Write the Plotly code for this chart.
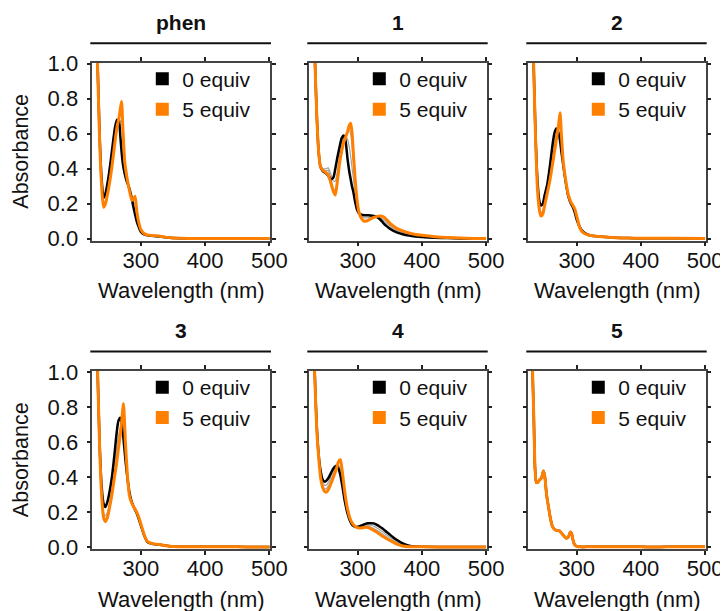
import plotly.graph_objects as go

# ---------------- data ----------------
panel_names = ["phen", "1", "2", "3", "4", "5"]
legend_labels = ["0 equiv", "5 equiv"]
x_tickvals = [300, 400, 500]
y_tickvals = [0.0, 0.2, 0.4, 0.6, 0.8, 1.0]

wl_phen = [230, 233, 236, 239, 242, 245, 250, 255, 260, 263, 266, 268, 270, 272, 275, 278, 282, 286, 288, 291,
           294, 297, 300, 305, 310, 320, 330, 340, 350, 375, 400, 450, 500]
abs0_phen = [1.35, 0.96, 0.58, 0.34, 0.235, 0.26, 0.36, 0.5, 0.64, 0.68, 0.67, 0.59, 0.5, 0.43, 0.37, 0.33,
             0.29, 0.23, 0.19, 0.14, 0.095, 0.065, 0.04, 0.025, 0.02, 0.016, 0.013, 0.007, 0.004, 0.002, 0.002,
             0.002, 0.002]
abs5_phen = [1.35, 0.95, 0.55, 0.30, 0.18, 0.2, 0.29, 0.41, 0.56, 0.64, 0.69, 0.74, 0.785, 0.64, 0.44, 0.36,
             0.28, 0.22, 0.225, 0.243, 0.15, 0.09, 0.053, 0.03, 0.022, 0.018, 0.015, 0.008, 0.005, 0.002, 0.002,
             0.002, 0.002]
gray_phen_a = [1.35, 0.955, 0.56, 0.31, 0.2, 0.22, 0.32, 0.45, 0.6, 0.66, 0.68, 0.67, 0.68, 0.55, 0.41, 0.345,
               0.285, 0.225, 0.21, 0.2, 0.125, 0.078, 0.047, 0.027, 0.021, 0.017, 0.014, 0.0075, 0.0045, 0.002,
               0.002, 0.002, 0.002]

wl_1 = [230, 233, 236, 239, 242, 246, 250, 254, 258, 262, 265, 268, 272, 275, 278, 281, 284, 287, 289, 291,
        293, 296, 299, 302, 306, 310, 315, 320, 325, 330, 335, 340, 345, 350, 360, 370, 380, 390, 400, 420,
        440, 460, 480, 500]
abs0_1 = [1.4, 1.05, 0.72, 0.5, 0.41, 0.385, 0.375, 0.36, 0.34, 0.35, 0.40, 0.46, 0.53, 0.575, 0.59, 0.56,
          0.46, 0.38, 0.34, 0.30, 0.27, 0.21, 0.165, 0.145, 0.137, 0.135, 0.134, 0.133, 0.13, 0.124, 0.11,
          0.09, 0.072, 0.058, 0.038, 0.026, 0.018, 0.013, 0.01, 0.006, 0.004, 0.002, 0.001, 0.0]
abs5_1 = [1.4, 1.05, 0.72, 0.5, 0.41, 0.39, 0.38, 0.365, 0.32, 0.27, 0.25, 0.32, 0.44, 0.5, 0.55, 0.58, 0.61,
          0.65, 0.66, 0.61, 0.5, 0.34, 0.22, 0.15, 0.115, 0.1, 0.103, 0.113, 0.122, 0.128, 0.13, 0.125, 0.11,
          0.09, 0.062, 0.045, 0.033, 0.025, 0.02, 0.012, 0.007, 0.004, 0.002, 0.001]
gray_1_a = [1.4, 1.05, 0.72, 0.5, 0.42, 0.4, 0.4, 0.405, 0.37, 0.33, 0.33, 0.38, 0.48, 0.54, 0.575, 0.58, 0.57,
            0.52, 0.47, 0.41, 0.35, 0.26, 0.19, 0.15, 0.128, 0.12, 0.12, 0.124, 0.127, 0.127, 0.12, 0.107,
            0.09, 0.074, 0.05, 0.035, 0.025, 0.019, 0.015, 0.009, 0.005, 0.003, 0.0015, 0.0005]
gray_1_b = [1.4, 1.05, 0.72, 0.5, 0.415, 0.395, 0.39, 0.39, 0.345, 0.29, 0.28, 0.34, 0.45, 0.51, 0.555, 0.585,
            0.61, 0.62, 0.6, 0.54, 0.44, 0.31, 0.21, 0.15, 0.118, 0.106, 0.107, 0.116, 0.124, 0.128, 0.127,
            0.118, 0.1, 0.082, 0.056, 0.04, 0.029, 0.022, 0.017, 0.01, 0.006, 0.003, 0.0015, 0.0005]

wl_2 = [230, 233, 236, 239, 242, 244, 247, 250, 254, 258, 262, 265, 268, 270, 272, 274, 276, 279, 283, 287,
        291, 294, 297, 300, 305, 310, 315, 320, 330, 340, 350, 360, 380, 400, 450, 500]
abs0_2 = [1.4, 0.97, 0.57, 0.32, 0.21, 0.19, 0.2, 0.25, 0.31, 0.41, 0.53, 0.6, 0.63, 0.62, 0.6, 0.56, 0.5,
          0.42, 0.32, 0.24, 0.2, 0.18, 0.15, 0.11, 0.065, 0.04, 0.028, 0.02, 0.014, 0.011, 0.008, 0.006,
          0.004, 0.003, 0.003, 0.002]
abs5_2 = [1.4, 0.97, 0.55, 0.27, 0.16, 0.13, 0.14, 0.19, 0.26, 0.33, 0.42, 0.49, 0.56, 0.61, 0.66, 0.72, 0.6,
          0.44, 0.33, 0.25, 0.21, 0.19, 0.17, 0.13, 0.06, 0.035, 0.025, 0.02, 0.014, 0.011, 0.008, 0.006,
          0.004, 0.003, 0.003, 0.002]
gray_2_a = [1.4, 0.97, 0.56, 0.29, 0.18, 0.15, 0.16, 0.21, 0.28, 0.37, 0.47, 0.55, 0.6, 0.63, 0.65, 0.66, 0.57,
            0.43, 0.33, 0.245, 0.205, 0.185, 0.16, 0.12, 0.062, 0.037, 0.026, 0.02, 0.014, 0.011, 0.008,
            0.006, 0.004, 0.003, 0.003, 0.002]

wl_3 = [230, 233, 236, 239, 242, 245, 248, 251, 255, 259, 262, 265, 268, 270, 273, 276, 279, 282, 285, 289,
        293, 297, 300, 305, 310, 315, 320, 330, 340, 350, 360, 380, 400, 450, 480, 500]
abs0_3 = [1.4, 0.97, 0.58, 0.35, 0.25, 0.23, 0.26, 0.31, 0.4, 0.53, 0.64, 0.72, 0.74, 0.71, 0.62, 0.5, 0.4,
          0.32, 0.27, 0.23, 0.2, 0.16, 0.125, 0.07, 0.032, 0.023, 0.019, 0.015, 0.009, 0.005, 0.004, 0.003,
          0.003, 0.003, 0.002, 0.002]
abs5_3 = [1.4, 0.97, 0.56, 0.3, 0.17, 0.147, 0.17, 0.22, 0.3, 0.4, 0.47, 0.56, 0.64, 0.71, 0.82, 0.6, 0.42,
          0.3, 0.26, 0.23, 0.205, 0.17, 0.135, 0.075, 0.035, 0.025, 0.02, 0.016, 0.009, 0.005, 0.004, 0.003,
          0.003, 0.003, 0.002, 0.002]
gray_3_a = [1.4, 0.97, 0.57, 0.32, 0.2, 0.18, 0.2, 0.25, 0.34, 0.46, 0.55, 0.63, 0.68, 0.7, 0.7, 0.55, 0.41,
            0.31, 0.265, 0.23, 0.2, 0.165, 0.13, 0.072, 0.033, 0.024, 0.02, 0.015, 0.009, 0.005, 0.004, 0.003,
            0.003, 0.003, 0.002, 0.002]

wl_4 = [230, 233, 236, 239, 242, 245, 248, 251, 255, 259, 263, 267, 270, 273, 276, 280, 284, 288, 292, 296,
        300, 304, 308, 312, 316, 320, 325, 330, 335, 340, 345, 350, 355, 360, 370, 380, 390, 400, 450, 500]
abs0_4 = [1.4, 0.99, 0.7, 0.53, 0.44, 0.39, 0.375, 0.38, 0.4, 0.43, 0.455, 0.467, 0.45, 0.41, 0.35, 0.26,
          0.195, 0.15, 0.125, 0.117, 0.118, 0.122, 0.128, 0.134, 0.137, 0.138, 0.137, 0.128, 0.116, 0.104,
          0.088, 0.073, 0.058, 0.045, 0.023, 0.01, 0.005, 0.003, 0.002, 0.002]
abs5_4 = [1.4, 0.98, 0.68, 0.52, 0.4, 0.345, 0.32, 0.315, 0.335, 0.37, 0.41, 0.45, 0.49, 0.5, 0.43, 0.31,
          0.22, 0.165, 0.135, 0.12, 0.112, 0.11, 0.112, 0.115, 0.113, 0.107, 0.097, 0.086, 0.073, 0.06, 0.05,
          0.04, 0.03, 0.02, 0.008, 0.004, 0.003, 0.003, 0.002, 0.002]
gray_4_a = [1.4, 0.985, 0.69, 0.525, 0.43, 0.375, 0.355, 0.355, 0.375, 0.41, 0.44, 0.465, 0.47, 0.45, 0.38,
            0.28, 0.205, 0.155, 0.13, 0.118, 0.116, 0.117, 0.122, 0.126, 0.127, 0.126, 0.121, 0.11, 0.098,
            0.086, 0.072, 0.059, 0.046, 0.035, 0.017, 0.008, 0.004, 0.003, 0.002, 0.002]
gray_4_b = [1.4, 0.982, 0.685, 0.522, 0.415, 0.36, 0.335, 0.335, 0.355, 0.39, 0.425, 0.46, 0.485, 0.48, 0.41,
            0.295, 0.215, 0.16, 0.132, 0.119, 0.114, 0.113, 0.117, 0.12, 0.12, 0.116, 0.108, 0.097, 0.085,
            0.072, 0.06, 0.048, 0.037, 0.027, 0.012, 0.006, 0.004, 0.003, 0.002, 0.002]

wl_5 = [229, 231, 233, 235, 237, 239, 242, 245, 248, 250, 253, 256, 259, 262, 266, 270, 273, 276, 280, 284,
        287, 290, 292, 294, 296, 298, 301, 305, 320, 340, 360, 380, 400, 420, 440, 460, 480, 500]
abs0_5 = [1.3, 1.02, 0.75, 0.45, 0.37, 0.37, 0.385, 0.395, 0.435, 0.41, 0.3, 0.23, 0.165, 0.12, 0.1, 0.096,
          0.094, 0.082, 0.065, 0.052, 0.06, 0.088, 0.08, 0.045, 0.02, 0.01, 0.005, 0.003, 0.003, 0.003, 0.004,
          0.003, 0.003, 0.002, 0.003, 0.003, 0.004, 0.003]
abs5_5 = [1.3, 1.02, 0.75, 0.45, 0.37, 0.37, 0.385, 0.395, 0.435, 0.41, 0.3, 0.23, 0.165, 0.12, 0.1, 0.096,
          0.094, 0.082, 0.065, 0.052, 0.06, 0.088, 0.08, 0.045, 0.02, 0.01, 0.005, 0.003, 0.003, 0.003, 0.004,
          0.003, 0.003, 0.002, 0.003, 0.003, 0.004, 0.003]

panels = [
    (wl_phen, abs0_phen, abs5_phen, [gray_phen_a]),
    (wl_1, abs0_1, abs5_1, [gray_1_a, gray_1_b]),
    (wl_2, abs0_2, abs5_2, [gray_2_a]),
    (wl_3, abs0_3, abs5_3, [gray_3_a]),
    (wl_4, abs0_4, abs5_4, [gray_4_a, gray_4_b]),
    (wl_5, abs0_5, abs5_5, []),
]

# ---------------- layout geometry (window pixels) ----------------
WIN_W, WIN_H = 728, 611
OFF = 8                     # default page margin around the figure
W, H = WIN_W - OFF, WIN_H - OFF
COLS = [(92.3, 270.0), (309.3, 486.7), (528.3, 705.7)]
ROWS = [(62.7, 240.7), (371.0, 549.3)]
FONT = "Liberation Sans, Arial, sans-serif"
BLACK = "#000000"
ORANGE = "#FF8000"
GRAY = "#A0A0A0"


def px(x):
    return (x - OFF) / W


def py(y):
    return 1 - (y - OFF) / H


fig = go.Figure()
annotations = []
shapes = []
layout = {}

for i, (wl, a0, a5, grays) in enumerate(panels):
    r, c = divmod(i, 3)
    n = "" if i == 0 else str(i + 1)
    xa, ya = "x" + n, "y" + n
    lg = "legend" + n
    (x0, x1), (y0, y1) = COLS[c], ROWS[r]

    for g in grays:
        fig.add_trace(go.Scatter(x=wl, y=g, mode="lines", xaxis=xa, yaxis=ya, showlegend=False,
                                 line=dict(color=GRAY, width=1.2, shape="spline", smoothing=0.6),
                                 hoverinfo="skip"))
    fig.add_trace(go.Scatter(x=wl, y=a0, mode="lines", xaxis=xa, yaxis=ya, showlegend=False,
                             line=dict(color=BLACK, width=2.5, shape="spline", smoothing=0.6)))
    fig.add_trace(go.Scatter(x=wl, y=a5, mode="lines", xaxis=xa, yaxis=ya, showlegend=False,
                             line=dict(color=ORANGE, width=3, shape="spline", smoothing=0.6)))
    for lab, col in zip(legend_labels, [BLACK, ORANGE]):
        fig.add_trace(go.Scatter(x=[None], y=[None], mode="markers", xaxis=xa, yaxis=ya, name=lab,
                                 legend=lg, showlegend=True,
                                 marker=dict(symbol="square", size=13, color=col)))

    common = dict(showgrid=False, zeroline=False, showline=True, linecolor="#444444", linewidth=1.5,
                  mirror="ticks", ticks="outside", ticklen=4, tickwidth=1.5, tickcolor="#222222",
                  automargin=False,
                  tickfont=dict(family=FONT, size=22, color="#111111"))
    layout["xaxis" + n] = dict(domain=[px(x0), px(x1)], range=[224.5, 501], anchor=ya,
                               tickmode="array", tickvals=x_tickvals, ticklabelstandoff=-5, **common)
    layout["yaxis" + n] = dict(domain=[py(y1), py(y0)], range=[-0.011, 1.006], anchor=xa,
                               tickmode="array", tickvals=y_tickvals, tickformat=".1f",
                               showticklabels=(c == 0), ticklabelstandoff=4, **common)
    layout[lg] = dict(x=px(x0 + 50), y=py(y0 - 4), xanchor="left", yanchor="top",
                      bgcolor="rgba(0,0,0,0)", borderwidth=0, itemsizing="trace",
                      font=dict(family=FONT, size=21, color="#111111"))

    cx = (x0 + x1) / 2
    annotations.append(dict(text="<b>%s</b>" % panel_names[i], x=px(cx), y=py(y0 - 40.5), xref="paper",
                            yref="paper", showarrow=False, xanchor="center", yanchor="middle",
                            font=dict(family=FONT, size=21, color="#111111")))
    shapes.append(dict(type="line", xref="paper", yref="paper", x0=px(x0 - 2), x1=px(x1 + 1),
                       y0=py(y0 - 19.5), y1=py(y0 - 19.5), line=dict(color="#111111", width=2)))
    annotations.append(dict(text="Wavelength (nm)", x=px(cx), y=py(y1 + 50), xref="paper", yref="paper",
                            showarrow=False, xanchor="center", yanchor="middle",
                            font=dict(family=FONT, size=22, color="#111111")))
    if c == 0:
        annotations.append(dict(text="Absorbance", x=px(21), y=py((y0 + y1) / 2), xref="paper",
                                yref="paper", showarrow=False, textangle=-90, xanchor="center",
                                yanchor="middle", font=dict(family=FONT, size=21.5, color="#111111")))

fig.update_layout(width=W, height=H, margin=dict(l=0, r=0, t=0, b=0, autoexpand=False),
                  paper_bgcolor="white", plot_bgcolor="white",
                  annotations=annotations, shapes=shapes, **layout)
fig.write_html("out.html")
